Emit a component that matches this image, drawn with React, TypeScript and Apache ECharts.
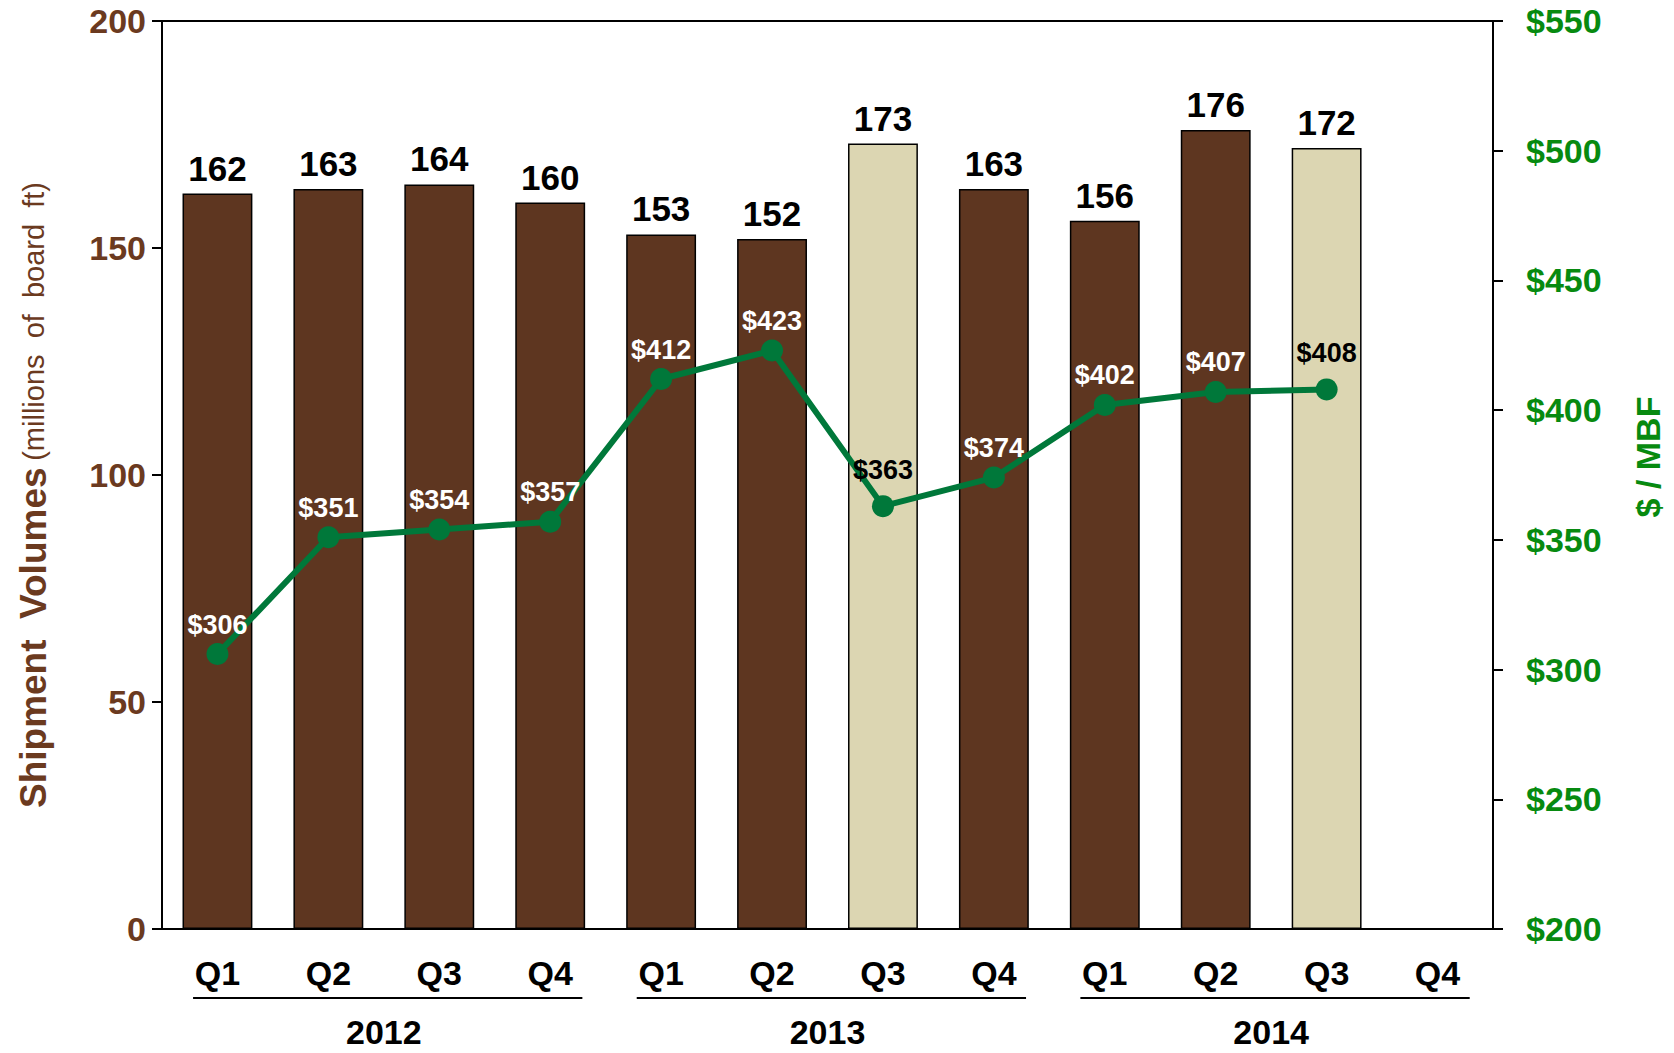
import React, { useEffect, useRef } from "react";
import * as echarts from "echarts";

const categories = [
  "2012 Q1", "2012 Q2", "2012 Q3", "2012 Q4",
  "2013 Q1", "2013 Q2", "2013 Q3", "2013 Q4",
  "2014 Q1", "2014 Q2", "2014 Q3", "2014 Q4",
];
const years = ["2012", "2013", "2014"];
const shipmentVolumes: (number | null)[] = [162, 163, 164, 160, 153, 152, 173, 163, 156, 176, 172, null];
const pricePerMBF: (number | null)[] = [306, 351, 354, 357, 412, 423, 363, 374, 402, 407, 408, null];
const lightBarIdx = [6, 10];
const darkLabelIdx = [6, 10];
const leftTicks = { min: 0, max: 200, interval: 50 };
const rightTicks = { min: 200, max: 550, interval: 50 };

const FONT = "'Liberation Sans', Arial, sans-serif";
const BROWN = "#5E3620";
const BEIGE = "#DCD6B2";
const AXIS_BROWN = "#6B3A1F";
const GREEN_TXT = "#078A10";
const GREEN_LINE = "#00783A";

export default function App() {
  const ref = useRef<HTMLDivElement>(null);
  useEffect(() => {
    document.body.style.margin = "0";
    const chart = echarts.init(ref.current!, null, { renderer: "svg" });
    const grid = { left: 162, right: 181, top: 21, bottom: 124 };
    chart.setOption({
      animation: false,
      textStyle: { fontFamily: FONT },
      grid: { ...grid, show: true, borderColor: "#000", borderWidth: 2, backgroundColor: "transparent" },
      xAxis: [
        {
          type: "category",
          data: categories,
          axisLine: { show: true, lineStyle: { color: "#000", width: 2 } },
          axisTick: { show: false },
          axisLabel: {
            formatter: (v: string) => v.split(" ")[1],
            color: "#000",
            fontWeight: "bold",
            fontSize: 34,
            fontFamily: FONT,
            margin: 27,
          },
        },
        {
          type: "category",
          data: years,
          position: "bottom",
          axisLine: { show: false },
          axisTick: { show: false },
          axisLabel: { color: "#000", fontWeight: "bold", fontSize: 34, fontFamily: FONT, margin: 86 },
        },
      ],
      yAxis: [
        {
          type: "value",
          ...leftTicks,
          position: "left",
          name: "{b|Shipment  Volumes}  {r|(millions  of  board  ft)}",
          nameLocation: "middle",
          nameRotate: 90,
          nameGap: 110,
          nameTextStyle: {
            padding: [0, 40, 0, 0],
            rich: {
              b: { fontSize: 37, fontWeight: "bold", color: AXIS_BROWN, fontFamily: FONT },
              r: { fontSize: 29, color: AXIS_BROWN, fontFamily: FONT },
            },
          },
          axisLine: { show: true, lineStyle: { color: "#000", width: 2 } },
          axisTick: { show: true, length: 10, lineStyle: { color: "#000", width: 2 } },
          splitLine: { show: false },
          axisLabel: { color: AXIS_BROWN, fontWeight: "bold", fontSize: 34, fontFamily: FONT, margin: 16 },
        },
        {
          type: "value",
          ...rightTicks,
          position: "right",
          name: "$ / MBF",
          nameLocation: "middle",
          nameRotate: 90,
          nameGap: 138,
          nameTextStyle: {
            color: GREEN_TXT,
            fontWeight: "bold",
            fontSize: 34,
            fontFamily: FONT,
            padding: [0, 0, 0, 36],
          },
          axisLine: { show: true, lineStyle: { color: "#000", width: 2 } },
          axisTick: { show: true, length: 10, lineStyle: { color: "#000", width: 2 } },
          splitLine: { show: false },
          axisLabel: {
            formatter: (v: number) => "$" + v,
            color: GREEN_TXT,
            fontWeight: "bold",
            fontSize: 34,
            fontFamily: FONT,
            margin: 33,
          },
        },
      ],
      series: [
        {
          type: "bar",
          yAxisIndex: 0,
          barWidth: "63%",
          data: shipmentVolumes.map((v, i) => ({
            value: v,
            itemStyle: { color: lightBarIdx.includes(i) ? BEIGE : BROWN },
          })),
          itemStyle: { borderColor: "#000", borderWidth: 1.5 },
          label: {
            show: true,
            position: "top",
            distance: 8,
            color: "#000",
            fontWeight: "bold",
            fontSize: 35,
            fontFamily: FONT,
          },
        },
        {
          type: "line",
          yAxisIndex: 1,
          z: 5,
          symbol: "circle",
          symbolSize: 22,
          lineStyle: { color: GREEN_LINE, width: 6 },
          itemStyle: { color: GREEN_LINE },
          data: pricePerMBF.map((v, i) => ({
            value: v,
            label: darkLabelIdx.includes(i) ? { color: "#000", distance: 12 } : undefined,
          })),
          label: {
            show: true,
            position: "top",
            distance: 5,
            color: "#fff",
            fontWeight: "bold",
            fontSize: 27,
            fontFamily: FONT,
            formatter: (p: any) => "$" + p.value,
          },
        },
      ],
    });

    const catW = (1674 - grid.left - grid.right) / categories.length;
    const yLine = 1053 - grid.bottom + 69;
    const lines = years.map((_, k) => {
      const x1 = chart.convertToPixel({ xAxisIndex: 0 }, k * 4) as number;
      const x2 = chart.convertToPixel({ xAxisIndex: 0 }, k * 4 + 3) as number;
      return {
        type: "line",
        shape: { x1: x1 - catW * 0.22, y1: yLine, x2: x2 + catW * 0.29, y2: yLine },
        style: { stroke: "#000", lineWidth: 2 },
      };
    });
    chart.setOption({ graphic: lines });

    return () => chart.dispose();
  }, []);
  return <div ref={ref} style={{ width: 1674, height: 1053 }} />;
}
